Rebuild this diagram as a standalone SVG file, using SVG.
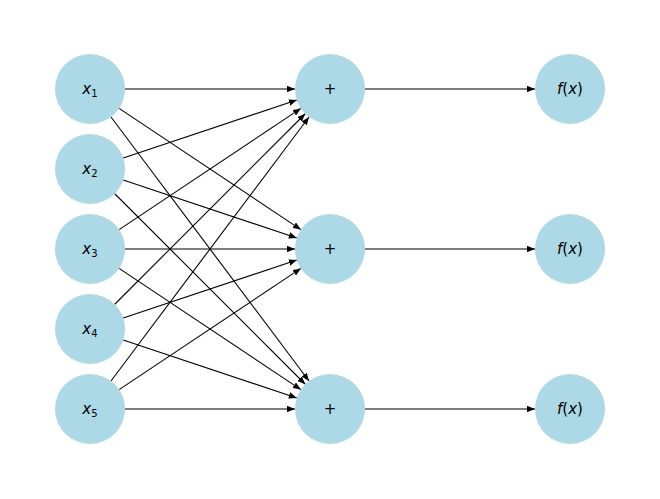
<svg xmlns="http://www.w3.org/2000/svg" width="660" height="499" viewBox="0 0 660 499">
<style>
.n{fill:#add8e6}
.t{font-family:"DejaVu Sans",sans-serif;font-size:15px;text-anchor:middle;dominant-baseline:central;fill:#000}
.i{font-style:italic}
line{stroke:#000;stroke-width:1.1;marker-end:url(#a)}
</style>
<defs><marker id="a" viewBox="0 0 10 8" refX="10" refY="4" markerWidth="8" markerHeight="6.4" markerUnits="userSpaceOnUse" orient="auto"><path d="M0,0L10,4L0,8z" fill="#000"/></marker></defs>
<rect width="660" height="499" fill="#fff"/>
<g id="edges">
<line x1="125" y1="89" x2="295" y2="89"/>
<line x1="119.12" y1="108.41" x2="300.88" y2="229.59"/>
<line x1="111" y1="117" x2="309" y2="381"/>
<line x1="123.2" y1="157.93" x2="296.8" y2="100.07"/>
<line x1="123.2" y1="180.07" x2="296.8" y2="237.93"/>
<line x1="114.75" y1="193.75" x2="305.25" y2="384.25"/>
<line x1="119.12" y1="229.59" x2="300.88" y2="108.41"/>
<line x1="125" y1="249" x2="295" y2="249"/>
<line x1="119.12" y1="268.41" x2="300.88" y2="389.59"/>
<line x1="114.75" y1="304.25" x2="305.25" y2="113.75"/>
<line x1="123.2" y1="317.93" x2="296.8" y2="260.07"/>
<line x1="123.2" y1="340.07" x2="296.8" y2="397.93"/>
<line x1="111" y1="381" x2="309" y2="117"/>
<line x1="119.12" y1="389.59" x2="300.88" y2="268.41"/>
<line x1="125" y1="409" x2="295" y2="409"/>
<line x1="365" y1="89" x2="535" y2="89"/>
<line x1="365" y1="249" x2="535" y2="249"/>
<line x1="365" y1="409" x2="535" y2="409"/>
</g>
<g id="x1"><circle class="n" cx="90" cy="89" r="35"/><text class="t" x="90" y="89"><tspan class="i">x</tspan><tspan font-size="10" dy="4">1</tspan></text></g>
<g id="x2"><circle class="n" cx="90" cy="169" r="35"/><text class="t" x="90" y="169"><tspan class="i">x</tspan><tspan font-size="10" dy="4">2</tspan></text></g>
<g id="x3"><circle class="n" cx="90" cy="249" r="35"/><text class="t" x="90" y="249"><tspan class="i">x</tspan><tspan font-size="10" dy="4">3</tspan></text></g>
<g id="x4"><circle class="n" cx="90" cy="329" r="35"/><text class="t" x="90" y="329"><tspan class="i">x</tspan><tspan font-size="10" dy="4">4</tspan></text></g>
<g id="x5"><circle class="n" cx="90" cy="409" r="35"/><text class="t" x="90" y="409"><tspan class="i">x</tspan><tspan font-size="10" dy="4">5</tspan></text></g>
<g id="s1"><circle class="n" cx="330" cy="89" r="35"/><text class="t" x="330" y="89">+</text></g>
<g id="s2"><circle class="n" cx="330" cy="249" r="35"/><text class="t" x="330" y="249">+</text></g>
<g id="s3"><circle class="n" cx="330" cy="409" r="35"/><text class="t" x="330" y="409">+</text></g>
<g id="f1"><circle class="n" cx="570" cy="89" r="35"/><text class="t" x="570" y="89"><tspan class="i">f</tspan>(<tspan class="i">x</tspan>)</text></g>
<g id="f2"><circle class="n" cx="570" cy="249" r="35"/><text class="t" x="570" y="249"><tspan class="i">f</tspan>(<tspan class="i">x</tspan>)</text></g>
<g id="f3"><circle class="n" cx="570" cy="409" r="35"/><text class="t" x="570" y="409"><tspan class="i">f</tspan>(<tspan class="i">x</tspan>)</text></g>
</svg>
